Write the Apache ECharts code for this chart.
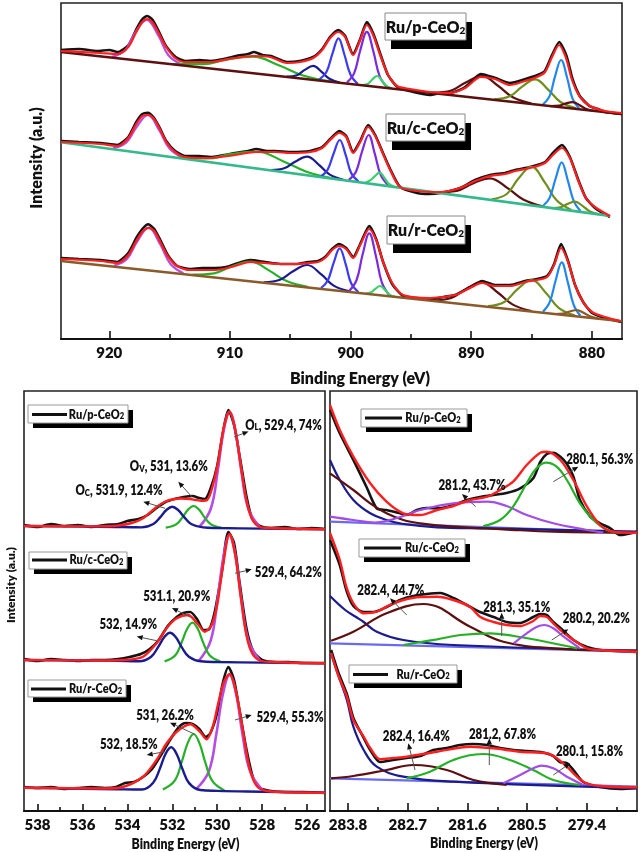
<!DOCTYPE html>
<html><head><meta charset="utf-8">
<script src="https://cdn.jsdelivr.net/npm/echarts@6/dist/echarts.min.js"></script>
<style>html,body{margin:0;padding:0;background:#fff}#c{width:640px;height:852px}</style>
</head><body><div id="c"></div>
<script>
// ---------- tick values ----------
const ceTicks = [920, 910, 900, 890, 880];
const ceMinor = [915, 905, 895, 885];
const o1sTicks = [538, 536, 534, 532, 530, 528, 526];
const o1sMinor = [537, 535, 533, 531, 529, 527];
const ru3dTicks = [283.8, 282.7, 281.6, 280.5, 279.4];
const ru3dMinor = [283.25, 282.15, 281.05, 279.95, 278.85];
const sampleNames = ['Ru/p-CeO', 'Ru/c-CeO', 'Ru/r-CeO'];

// ---------- Ce 3d : Ru/p-CeO2 ----------
const pRaw = [[924,289],[922.5,290],[921,288],[920,289],[919.3,287],[918.4,294],[917.75,310],[917.25,320],[916.85,323],[916.4,319],[915.95,309],[915.3,293],[914.5,282],[913.7,278],[912.5,279],[911.6,278],[910.5,280],[909.5,283],[908.5,285],[908.0,287],[907.3,284],[906.6,283],[905.3,277],[904.2,278],[903.1,282],[902.35,290],[901.7,302],[901.0,309],[900.45,303],[899.8,285],[899.2,300],[898.65,317],[898.1,305],[897.5,284],[896.9,264],[896.1,252],[895.1,248],[894,245],[893.4,244],[892.5,246],[891.75,246],[890.5,252],[889.2,265],[888.0,261],[886.8,256],[885.5,260],[884.5,264],[883.9,268],[883.3,284],[882.7,297],[882.1,283],[881.6,260],[881.0,243],[880.2,233],[879.5,230],[878.9,227],[877.5,225]];
const pFit = [[924,288],[920.74,286],[919.34,285],[918.42,292],[917.76,307],[917.26,317],[916.85,320],[916.44,317],[915.95,307],[915.28,292],[914.54,281],[913.71,277],[911.64,277],[909.57,281],[908.07,283],[906.67,282],[905.25,276],[904.18,277],[903.1,281],[902.35,289],[901.69,301],[901.02,307],[900.45,302],[899.78,284],[899.2,299],[898.65,314],[898.13,304],[897.55,284],[896.88,264],[896.14,253],[895.06,250],[893.4,247],[891.75,246],[890.5,251],[889.18,262],[888.02,260],[886.78,254],[885.54,258],[884.55,262],[883.88,267],[883.3,282],[882.72,294],[882.14,281],[881.64,259],[880.98,242],[880.15,233],[878.9,228],[877.5,226]];
const pBase = [[877.5,225],[924,287]];
const pPk917 = [[914.0,274.5],[915.1,283.8],[915.9,302.8],[916.9,319],[917.9,305.4],[918.7,288.6],[919.8,282.1]];
const pPk908 = [[901.5,257.3],[904.0,263.8],[905.9,273.5],[908.1,282.3],[910.3,279.3],[912.2,274.8],[914.7,274.9]];
const pPk903 = [[900.9,256.5],[901.75,260.2],[902.4,267.1],[903.1,273.1],[903.8,269.1],[904.45,263.8],[905.3,262.3]];
const pPk901 = [[899.4,255.1],[900.0,264.3],[900.5,284.0],[901.0,300.6],[901.5,285.4],[902.0,266.9],[902.6,259.3]];
const pPk899 = [[897.0,252.1],[897.6,263.2],[898.1,287.1],[898.65,307.2],[899.2,288.5],[899.7,265.9],[900.3,256.5]];
const pPk898 = [[896.6,250.6],[897.05,253.3],[897.4,258.5],[897.8,263],[898.2,259.5],[898.55,255.3],[899.0,253.8]];
const pPk889 = [[885.0,235.4],[886.55,241.7],[887.75,253.0],[889.1,262.9],[890.45,256.6],[891.65,248.5],[893.2,246.3]];
const pPk885 = [[881.3,230.6],[882.6,237.0],[883.6,249.1],[884.7,259.6],[885.8,252.1],[886.8,242.7],[888.1,239.6]];
const pPk882 = [[881.05,230.6],[881.6,240.4],[882.05,261.3],[882.55,279.0],[883.05,262.7],[883.5,242.9],[884.05,234.6]];
const pPk881 = [[879.8,228.1],[880.5,230.3],[881.0,233.8],[881.6,236.9],[882.2,235.4],[882.7,233.3],[883.4,232.9]];

// ---------- Ce 3d : Ru/c-CeO2 ----------
const cRaw = [[924,198],[922.5,197],[920.74,196],[919.34,194],[918.42,202],[917.76,217],[917.26,225],[916.8,226.3],[916.35,222],[915.85,212],[915.28,198],[914.54,188],[913.71,183],[912.5,183],[911.64,182],[910.5,184],[909.57,186],[908.5,188],[907.83,190],[906.9,188],[906.25,188],[905.0,187],[903.35,188],[902.35,192],[901.69,200],[900.94,208],[900.36,203],[899.78,187],[899.2,198],[898.54,214],[897.96,204],[897.38,188],[896.72,170],[895.89,152],[894.48,146],[893.5,145],[892.57,146],[890.92,151],[889.68,159],[888.43,164],[887.19,166],[886.36,169],[885.12,172],[883.88,177],[883.23,186],[882.48,194],[881.82,182],[881.15,160],[880.49,141],[879.74,131],[878.5,122]];
const cFit = [[924,197],[920.74,195],[919.34,193],[918.42,201],[917.76,215],[917.26,223],[916.8,224],[916.35,221],[915.85,211],[915.28,197],[914.54,187],[913.71,182],[911.64,181],[909.57,184],[907.83,187],[906.25,187],[905.0,186],[903.35,187],[902.35,191],[901.69,199],[900.94,206],[900.36,202],[899.78,186],[899.2,197],[898.54,212],[897.96,203],[897.38,187],[896.72,169],[895.89,152],[894.48,148],[892.57,147],[890.92,151],[889.68,158],[888.43,163],[887.19,165],[886.36,168],[885.12,171],[883.88,176],[883.23,184],[882.48,191],[881.82,181],[881.15,159],[880.49,141],[879.74,132],[878.5,123]];
const cBase = [[878.5,123.1],[924,196.7]];
const cPk917 = [[913.9,181.2],[915.0,190.4],[915.85,208.5],[916.8,224.0],[917.75,211.6],[918.6,196.2],[919.7,190.6]];
const cPk908 = [[901.2,160.0],[903.65,167.3],[905.55,177.6],[907.75,187.3],[909.95,184.8],[911.85,180.5],[914.35,181.4]];
const cPk904 = [[900.6,159.3],[901.75,164.6],[902.6,173.9],[903.6,182.3],[904.6,177.2],[905.5,170.7],[906.6,169.0]];
const cPk901 = [[899.35,157.7],[899.95,166.1],[900.4,183.9],[900.9,199.0],[901.4,185.5],[901.9,169.3],[902.45,162.7]];
const cPk899 = [[896.9,153.9],[897.5,164.1],[898.0,185.6],[898.5,204.0],[899.05,187.4],[899.55,167.3],[900.15,159.1]];
const cPk898 = [[896.4,152.3],[896.85,155.4],[897.2,161.3],[897.6,166.3],[898.0,162.6],[898.35,158.8],[898.8,156.1]];
const cPk888 = [[884.0,132.4],[885.65,139.2],[886.95,150.6],[888.45,160.7],[889.9,155.4],[891.2,148.2],[892.9,146.8]];
const cPk885 = [[881.7,129.1],[882.9,138.4],[883.9,156.6],[885.0,172.3],[886.1,160.2],[887.05,145.0],[888.3,139.7]];
const cPk882 = [[880.95,128.0],[881.5,137.9],[882.0,158.9],[882.5,176.7],[883.0,160.5],[883.5,141.1],[884.05,133.0]];
const cPk881 = [[879.5,124.9],[880.2,127.9],[880.75,132.9],[881.4,137.3],[882.05,134.9],[882.6,131.7],[883.3,130.9]];

// ---------- Ce 3d : Ru/r-CeO2 ----------
const rRaw = [[924,81],[922.5,80],[920.74,79],[919.34,77],[918.42,86],[917.76,101],[917.26,110],[916.77,114.7],[916.27,110],[915.77,99],[915.1,83],[914.37,73],[913.29,70],[912.3,71],[911.22,71],[910.3,72],[909.57,75],[908.32,79],[907.08,77],[905.83,75],[904.51,75],[903.52,77],[902.69,78],[902.11,82],[901.53,90],[900.94,95],[900.36,91],[899.78,82],[899.2,95],[898.45,113],[897.88,100],[897.3,77],[896.55,55],[895.64,43],[894.5,41],[893.4,40],[892.3,42],[891.34,44],[890.09,52],[889.1,58],[888.02,54],[886.78,54],[885.54,58],[884.55,60],[883.71,63],[883.13,75],[882.55,95],[881.97,78],[881.39,54],[880.72,37],[879.98,26],[878.9,21],[877.5,17]];
const rFit = [[924,80],[920.74,78],[919.34,76],[918.42,84],[917.76,98],[917.26,107],[916.77,111],[916.27,108],[915.77,97],[915.1,82],[914.37,73],[913.29,69],[911.22,69],[909.57,73],[908.32,77],[907.08,76],[905.83,75],[904.51,75],[903.52,76],[902.69,77],[902.11,81],[901.53,89],[900.94,93],[900.36,90],[899.78,81],[899.2,94],[898.45,110],[897.88,99],[897.3,77],[896.55,56],[895.64,44],[893.4,41],[891.34,44],[890.09,51],[889.1,56],[888.02,53],[886.78,53],[885.54,57],[884.55,59],[883.71,62],[883.13,74],[882.55,91],[881.97,77],[881.39,54],[880.72,37],[879.98,27],[878.9,22],[877.66,18]];
const rBase = [[877.5,17.8],[924,78]];
const rPk917 = [[913.86,65.75],[914.94,75.3],[915.78,94.7],[916.74,111.3],[917.7,97.1],[918.54,79.9],[919.62,73.15]];
const rPk908 = [[903.5,51.9],[905.3,57.9],[906.7,68.1],[908.3,77.3],[909.9,72.3],[911.3,65.7],[913.1,64.3]];
const rPk904 = [[900.0,47.4],[901.4,53.4],[902.4,64.3],[903.6,74.0],[904.8,67.5],[905.85,59.2],[907.2,56.7]];
const rPk901 = [[899.35,47.0],[899.95,55.7],[900.4,74.7],[900.9,90.7],[901.4,76.1],[901.9,58.3],[902.45,51.0]];
const rPk899 = [[896.8,44.0],[897.4,56.4],[897.9,83.1],[898.45,105.7],[899.0,84.5],[899.5,59.0],[900.1,48.2]];
const rPk898 = [[896.35,42.4],[896.8,44.65],[897.15,49.15],[897.55,53.0],[897.95,50.15],[898.3,46.65],[898.75,45.5]];
const rPk889 = [[885.0,28.0],[886.55,34.4],[887.75,46.0],[889.1,56.3],[890.45,49.6],[891.65,41.0],[893.2,38.6]];
const rPk885 = [[881.4,23.4],[882.75,31.2],[883.8,46.1],[885.0,59.0],[886.2,49.3],[887.25,37.0],[888.6,32.8]];
const rPk882 = [[880.95,23.3],[881.5,34.0],[882.0,57.1],[882.5,76.7],[883.0,58.5],[883.5,36.6],[884.05,27.3]];
const rPk881 = [[879.45,20.4],[880.1,22.4],[880.65,25.9],[881.25,29.0],[881.85,27.5],[882.4,25.4],[883.05,25.0]];

// ---------- O 1s ----------
const o1Raw = [[538.6,286],[538,284],[537.4,287],[536.8,285],[536.2,286],[535.6,284],[535,286],[534.4,287],[534,290],[533.5,292],[533.1,296],[532.7,303],[532.3,309],[531.9,312],[531.5,314],[531.1,315],[530.8,313],[530.55,312],[530.3,322],[530.0,345],[529.75,378],[529.5,401],[529.25,386],[529.0,355],[528.7,315],[528.45,293],[528.1,285],[527.6,283],[527,284],[526.4,282],[525.8,283],[525.2,282]];
const o1Fit = [[538.6,285],[536,284.6],[535,284.8],[534.4,285.5],[533.8,288],[533.3,292.7],[532.7,304],[532.3,309.5],[531.96,311.7],[531.6,312.5],[531.2,312],[530.95,311],[530.7,310.3],[530.45,311],[530.2,325],[529.95,350],[529.7,384],[529.45,399.3],[529.2,382],[528.95,345],[528.7,311],[528.45,292],[528.1,284],[527.65,283],[525.2,281.7]];
const o1Bg = [[525.2,281.7],[528,282.4],[530,283],[530.63,283.6],[531.16,287],[531.47,293.9],[531.74,301],[532.0,304.3],[532.26,301],[532.53,293.9],[532.84,287],[533.37,283.6],[533.8,283.8],[534.5,284],[536,284.4],[538.6,285]];
const o1OL = [[528.1,283.8],[528.62,302.5],[528.93,341.0],[529.19,380.6],[529.45,399.3],[529.71,380.6],[529.97,341.0],[530.28,302.5],[530.8,283.8]];
const o1Ov = [[529.81,283.4],[530.29,286.9],[530.58,294.1],[530.81,301.5],[531.05,305.0],[531.29,301.5],[531.53,294.1],[531.81,286.9],[532.29,283.4]];

const o2Raw = [[538.6,152],[538,150],[537.4,152],[536.8,151],[536.2,150],[535.6,151],[535,151],[534.4,152],[533.9,154],[533.4,157],[533.0,162],[532.6,171],[532.2,185],[531.8,194],[531.5,198],[531.2,199],[530.9,192],[530.6,181],[530.35,182],[530.1,200],[529.8,238],[529.5,279],[529.25,268],[529.0,228],[528.7,183],[528.4,160],[528.0,151],[527.4,149],[526.8,149],[526.2,148],[525.2,148]];
const o2Fit = [[538.6,151],[535,150.5],[534,151.2],[533.3,154.3],[532.7,167.7],[532.2,184.3],[531.8,192.7],[531.3,196],[530.9,188],[530.55,179.3],[530.25,186],[530.0,206],[529.75,244],[529.45,277],[529.2,257],[528.95,214],[528.7,176],[528.45,158],[528.1,150.5],[527.5,149],[525.2,147.7]];
const o2Bg = [[525.2,147.7],[528,148.4],[530,149],[530.73,149.7],[531.26,154.3],[531.58,163.9],[531.84,173.7],[532.1,178.3],[532.36,173.7],[532.63,163.9],[532.94,154.3],[533.47,149.7],[534.5,150.2],[536,150.5],[538.6,151]];
const o2OL = [[528.08,150.0],[528.61,170.3],[528.93,212.4],[529.19,255.6],[529.45,276.0],[529.71,255.6],[529.98,212.4],[530.29,170.3],[530.82,150.0]];
const o2Ov = [[529.86,149.6],[530.34,155.8],[530.63,168.8],[530.86,182.0],[531.1,188.3],[531.34,182.0],[531.58,168.8],[531.86,155.8],[532.34,149.6]];

const o3Raw = [[538.6,24],[538,23],[537.4,24],[536.8,22],[536.2,23],[535.6,24],[535,23],[534.5,24],[534.1,28],[533.7,29],[533.3,34],[532.9,42],[532.5,56],[532.1,71],[531.7,84],[531.4,88],[531.1,87],[530.8,82],[530.5,74],[530.3,78],[530.0,98],[529.75,128],[529.5,144],[529.25,131],[529.0,100],[528.7,62],[528.4,33],[528.1,23],[527.6,20],[527,19],[526.2,19],[525.2,18]];
const o3Fit = [[538.6,23.3],[535,22.5],[534.2,24],[533.3,34.3],[532.7,51],[532.25,67.7],[531.8,79.3],[531.2,86.7],[530.77,79.3],[530.47,71.7],[530.2,84],[529.95,108],[529.7,129],[529.45,137],[529.15,118],[528.85,80],[528.55,42],[528.2,24],[527.6,19.5],[525.2,18.3]];
const o3Bg = [[525.2,18.3],[528,19.3],[530,20.1],[530.75,21.0],[531.25,27.9],[531.55,42.2],[531.8,56.8],[532.05,63.7],[532.3,57.0],[532.55,42.4],[532.85,28.3],[533.35,21.5],[534.5,21.8],[536,22.3],[538.6,23.3]];
const o3OL = [[527.95,20.4],[528.53,39.4],[528.88,77.8],[529.16,117.3],[529.45,136.0],[529.74,117.5],[530.03,78.1],[530.37,39.8],[530.95,21.6]];
const o3Ov = [[529.68,20.6],[530.21,29.8],[530.53,48.6],[530.79,67.9],[531.05,77.0],[531.31,68.1],[531.58,49.0],[531.89,30.4],[532.42,21.5]];

// ---------- Ru 3d ----------
const u1Raw = [[284.13,401],[283.95,377.7],[283.7,351],[283.46,324.3],[283.27,302.7],[283.09,301],[282.84,297.7],[282.72,296],[282.53,301],[282.35,303],[282.1,302.7],[281.86,306],[281.61,311],[281.37,314],[281.12,316],[280.88,318],[280.63,322.7],[280.39,332.7],[280.26,349],[280.14,357],[280.02,358.3],[279.89,354.3],[279.77,347],[279.65,334.3],[279.53,311],[279.34,294.3],[279.16,287.7],[278.97,282.7],[278.79,276],[278.48,279.3]];
const u1Fit = [[284.13,406],[283.95,381],[283.7,354.3],[283.39,327.7],[283.09,309.3],[282.78,297.7],[282.47,296],[282.16,301],[281.86,305],[281.55,311],[281.24,314.3],[281.0,321],[280.76,329.3],[280.51,346],[280.26,358.3],[280.14,359.3],[279.89,351],[279.65,331],[279.4,304.3],[279.16,286],[278.91,279.3],[278.48,278.3]];
const u1Navy = [[284.13,351],[283.95,331],[283.7,311],[283.39,297.7],[283.09,291],[282.78,287],[282.16,283.7],[281.24,282.7],[278.48,279.3]];
const u1Mar = [[284.13,337.7],[283.7,321],[283.39,307.7],[283.09,297.7],[282.78,291],[282.47,287.7],[281.86,284.3],[280.94,281.7],[280.02,279.3],[278.48,278.3]];
const u1Base = [[284.13,289.3],[278.48,278.3]];
const u1Vio = [[284.13,294.3],[283.7,291],[283.3,288.5],[283.09,290],[282.78,295],[282.47,301],[281.86,307.7],[281.24,309.3],[280.88,305],[280.51,296],[280.02,287.7],[279.4,281],[279.1,278.3]];
const u1Grn = [[281.31,285],[281.0,291],[280.76,304.3],[280.51,327.7],[280.33,342.7],[280.15,348.3],[279.96,344.3],[279.77,331],[279.53,307.7],[279.28,291],[279.03,281],[278.79,278.3]];

const u2Raw = [[284.13,271],[283.95,246],[283.83,221],[283.7,205],[283.51,199],[283.33,199],[283.09,204],[282.84,211],[282.6,215],[282.35,217],[282.1,218],[281.86,213],[281.61,206],[281.37,199],[281.12,194],[280.88,189],[280.63,188],[280.39,194],[280.26,197],[280.14,196],[280.02,189],[279.89,183],[279.65,171],[279.4,164],[279.16,161],[278.48,159]];
const u2Fit = [[284.13,278],[283.95,251],[283.83,224.3],[283.7,207.7],[283.51,197.7],[283.27,199.3],[283.03,206],[282.78,211],[282.47,214],[282.16,214.3],[281.86,211],[281.55,204],[281.37,194.3],[281.12,189],[280.88,186],[280.63,185],[280.39,190],[280.26,195],[280.14,194],[280.02,187.7],[279.89,181],[279.65,171],[279.4,162.7],[279.16,161],[278.48,159.3]];
const u2Navy = [[284.13,215],[283.85,201],[283.65,194],[283.51,189],[283.27,179.3],[282.78,171],[281.86,166],[278.48,160.3]];
const u2Mar = [[284.11,170.3],[283.7,179.3],[283.09,197.7],[282.41,207],[281.55,184.3],[280.94,169.3],[280.02,162.7],[278.48,160.3]];
const u2Base = [[284.13,167.7],[278.48,159.3]];
const u2Grn = [[282.78,166],[282.16,171.7],[281.73,176],[281.18,177.7],[280.75,175],[280.32,171],[279.58,162.7]];
const u2Vio = [[280.75,167.7],[280.51,177.7],[280.32,184.3],[280.19,186],[280.02,182.7],[279.83,174.3],[279.53,162.7]];

const u3Raw = [[284.11,161],[283.98,139],[283.82,117],[283.7,93],[283.52,74],[283.39,61],[283.21,49],[282.97,51],[282.72,53],[282.47,55],[282.23,61],[281.98,63],[281.74,66],[281.5,67],[281.24,66],[281.0,63],[280.75,61],[280.51,60],[280.26,59],[280.02,55],[279.9,49],[279.77,48],[279.65,41],[279.47,29],[279.16,24],[278.79,22],[278.48,23]];
const u3Fit = [[284.11,158],[283.98,136],[283.82,114.3],[283.7,91],[283.51,74.3],[283.39,63],[283.21,51.7],[282.96,53],[282.72,54.3],[282.16,59.3],[281.55,64.3],[281.12,62.7],[280.63,59.3],[280.14,57.7],[279.96,53],[279.77,44.3],[279.47,29.3],[279.16,25],[278.48,23.7]];
const u3Navy = [[284.11,157.7],[283.98,136],[283.82,111],[283.7,84.3],[283.51,61],[283.27,44.3],[282.78,34.3],[281.86,29.3],[278.48,22.7]];
const u3Mar = [[284.11,32.7],[283.7,35],[283.09,41],[282.6,46],[281.98,41],[281.49,31],[280.88,26]];
const u3Base = [[284.13,32.7],[278.48,24.3]];
const u3Grn = [[282.72,32.7],[282.29,39.3],[281.86,51],[281.31,57],[280.82,51],[280.39,41],[280.02,31],[279.53,26]];
const u3Vio = [[280.94,27.7],[280.63,36],[280.39,42.7],[280.23,45.3],[280.02,42.7],[279.77,34.3],[279.47,26]];

// ---------- annotation texts ----------
const o1sLabels = [['L', '529.4, 74%'], ['V', '531, 13.6%'], ['C', '531.9, 12.4%'], ['', '529.4, 64.2%'], ['', '531.1, 20.9%'], ['', '532, 14.9%'], ['', '529.4, 55.3%'], ['', '531, 26.2%'], ['', '532, 18.5%']];
const ru3dLabels = ['280.1, 56.3%', '281.2, 43.7%', '282.4, 44.7%', '281.3, 35.1%', '280.2, 20.2%', '282.4, 16.4%', '281.2, 67.8%', '280.1, 15.8%'];

// ---------- colours ----------
const C = {
  black: '#141414', red: '#ff1f1f', orchid: '#b44ee2', green: '#26b026', navy: '#1b1b90',
  blue: '#3b3bf0', violet: '#7b2ae0', lgreen: '#3ccf6a', maroon: '#5c1010', olive: '#6e8f1e',
  dodger: '#2086f0', teal: '#33b98a', brown: '#8a5a2a', rviolet: '#a24ee6', lblue: '#6a6af0'
};

function ln(data, color, w, xi, smooth) {
  return {
    type: 'line', xAxisIndex: xi, yAxisIndex: Math.floor(xi / 2),
    data: data.slice().sort((a, b) => a[0] - b[0]),
    showSymbol: false, symbol: 'none', smooth: smooth === undefined ? 0.3 : smooth,
    lineStyle: { color: color, width: w }, silent: true, animation: false
  };
}

const series = [];
[[pRaw, pFit, pBase, [pPk917, pPk908, pPk903, pPk901, pPk899, pPk898, pPk889, pPk885, pPk882, pPk881], C.maroon, C.maroon],
 [cRaw, cFit, cBase, [cPk917, cPk908, cPk904, cPk901, cPk899, cPk898, cPk888, cPk885, cPk882, cPk881], C.teal, C.olive],
 [rRaw, rFit, rBase, [rPk917, rPk908, rPk904, rPk901, rPk899, rPk898, rPk889, rPk885, rPk882, rPk881], C.brown, C.brown]
].forEach(s => {
  const pkCols = [C.orchid, C.green, C.navy, C.blue, C.violet, C.lgreen, C.maroon, C.olive, C.dodger, s[5]];
  series.push(ln(s[0], C.black, 2.6, 0, 0.2));
  s[3].forEach((pk, i) => series.push(ln(pk, pkCols[i], 2.2, 0, 0.4)));
  series.push(ln(s[2], s[4], 2.6, 0, false));
  series.push(ln(s[1], C.red, 2.2, 0, 0.3));
});
[[o1Raw, o1Fit, o1Bg, o1OL, o1Ov], [o2Raw, o2Fit, o2Bg, o2OL, o2Ov], [o3Raw, o3Fit, o3Bg, o3OL, o3Ov]].forEach(s => {
  series.push(ln(s[0], C.black, 2.6, 2, 0.25));
  series.push(ln(s[3], C.orchid, 2.6, 2, 0.4));
  series.push(ln(s[4], C.green, 2.2, 2, 0.4));
  series.push(ln(s[2], C.navy, 2.4, 2, 0.4));
  series.push(ln(s[1], C.red, 2.4, 2, 0.3));
});
[[u1Raw, u1Fit, u1Navy, u1Mar, u1Base, u1Vio, u1Grn], [u2Raw, u2Fit, u2Navy, u2Mar, u2Base, u2Grn, u2Vio], [u3Raw, u3Fit, u3Navy, u3Mar, u3Base, u3Grn, u3Vio]].forEach((s, k) => {
  series.push(ln(s[0], C.black, 2.6, 4, 0.25));
  series.push(ln(s[4], C.lblue, 2.2, 4, false));
  series.push(ln(s[2], C.navy, 2.2, 4, 0.4));
  series.push(ln(s[3], C.maroon, 2.2, 4, 0.4));
  if (k === 0) { series.push(ln(s[5], C.rviolet, 2.2, 4, 0.4)); series.push(ln(s[6], C.green, 2.2, 4, 0.4)); }
  else { series.push(ln(s[5], C.green, 2.2, 4, 0.4)); series.push(ln(s[6], C.rviolet, 2.2, 4, 0.4)); }
  series.push(ln(s[1], C.red, 2.4, 4, 0.3));
});

const F = 'Lato, sans-serif';
const FN = '"Liberation Sans Narrow", Lato, sans-serif';
const W = 800;

function xax(grid, min, max, ticks, len, showLabel, fs, fam, fmt) {
  return {
    type: 'value', gridIndex: grid, min: min, max: max, inverse: true, position: 'bottom',
    axisLine: { show: showLabel, onZero: false, lineStyle: { color: '#111', width: 2 } },
    axisTick: { show: true, inside: true, length: len, customValues: ticks, lineStyle: { color: '#111', width: 1.6 } },
    axisLabel: { show: showLabel, customValues: ticks, fontSize: fs, fontWeight: W, fontFamily: fam, color: '#111', margin: 7,
      formatter: fmt },
    splitLine: { show: false }
  };
}
function yax(grid, max) {
  return { type: 'value', gridIndex: grid, min: 0, max: max, show: false, splitLine: { show: false } };
}

// ---------- graphic annotations ----------
const G = [];
function txt(x, y, text, size, sx, rich, rot) {
  G.push({ type: 'text', x: x, y: y, z: 100, scaleX: sx || 1, rotation: rot || 0,
    style: { text: text, fontSize: size, fontWeight: W, fontFamily: F, fill: '#111', align: 'center', verticalAlign: 'middle', rich: rich } });
}
function arrow(x1, y1, x2, y2) {
  const a = Math.atan2(y2 - y1, x2 - x1), L = 6, Wd = 2.6;
  const bx = x2 - L * Math.cos(a), by = y2 - L * Math.sin(a);
  G.push({ type: 'line', z: 100, shape: { x1: x1, y1: y1, x2: bx, y2: by }, style: { stroke: '#555', lineWidth: 1 } });
  G.push({ type: 'polygon', z: 100, shape: { points: [[x2, y2], [bx + Wd * Math.sin(a), by - Wd * Math.cos(a)], [bx - Wd * Math.sin(a), by + Wd * Math.cos(a)]] }, style: { fill: '#111' } });
}
function subRich(big, small) {
  return { a: { fontSize: big, fontWeight: W, fontFamily: F, fill: '#111', verticalAlign: 'bottom' },
           b: { fontSize: small, fontWeight: W, fontFamily: F, fill: '#111', verticalAlign: 'bottom' } };
}
function topBox(x1, y1, x2, y2, name) {
  G.push({ type: 'rect', z: 99, shape: { x: x1 + 6, y: y1 + 9, width: x2 - x1, height: y2 - y1 }, style: { fill: '#000' } });
  G.push({ type: 'rect', z: 99, shape: { x: x1, y: y1, width: x2 - x1, height: y2 - y1 }, style: { fill: '#fff', stroke: '#888', lineWidth: 1 } });
  txt((x1 + x2) / 2, (y1 + y2) / 2 + 1, '{a|' + name + '}{b|2}', 15, 1, subRich(16, 10));
}
function legBox(x1, y1, x2, y2, lx1, lx2, ly, tx, name) {
  G.push({ type: 'rect', z: 99, shape: { x: x1 + 5, y: y1 + 5, width: x2 - x1, height: y2 - y1 }, style: { fill: '#000' } });
  G.push({ type: 'rect', z: 99, shape: { x: x1, y: y1, width: x2 - x1, height: y2 - y1 }, style: { fill: '#fff', stroke: '#999', lineWidth: 1 } });
  G.push({ type: 'line', z: 100, shape: { x1: lx1, y1: ly, x2: lx2, y2: ly }, style: { stroke: '#111', lineWidth: 3 } });
  txt(tx, ly, '{a|' + name + '}{b|2}', 13, 0.85, subRich(13, 9));
}

topBox(385, 13, 466, 40, sampleNames[0]);
topBox(386, 114, 465, 141, sampleNames[1]);
topBox(387, 216, 465, 244, sampleNames[2]);

legBox(28, 405, 128, 423, 32, 67, 414.5, 96.5, sampleNames[0]);
legBox(29, 552, 127, 569, 32, 67, 560, 96.5, sampleNames[1]);
legBox(28, 680, 126, 697, 31, 66, 689, 95.5, sampleNames[2]);
legBox(361, 409, 467, 427, 365, 402, 418, 433, sampleNames[0]);
legBox(359, 539, 465, 557, 364, 401, 548, 432, sampleNames[1]);
legBox(349, 665, 457, 683, 353, 388, 674.5, 423, sampleNames[2]);

const AS = 14, AX = 0.82;
function oLab(x, y, lab) {
  if (lab[0]) txt(x, y, '{a|O}{b|' + lab[0] + '}{a|, ' + lab[1] + '}', AS, AX, subRich(AS, 9.5));
  else txt(x, y, lab[1], AS, AX);
}
oLab(283.5, 425, o1sLabels[0]); arrow(234, 437, 248.5, 431.5);
oLab(168.8, 466.5, o1sLabels[1]); arrow(191.7, 496.7, 178.3, 481.7);
oLab(119, 490.5, o1sLabels[2]); arrow(165, 508.3, 143.3, 501.7);
oLab(288.3, 572.5, o1sLabels[3]); arrow(235, 573.3, 251.7, 569.3);
oLab(176.7, 596, o1sLabels[4]); arrow(190, 617, 172, 608);
oLab(128.3, 624, o1sLabels[5]); arrow(156.7, 640.7, 136.7, 636.5);
oLab(290, 717.3, o1sLabels[6]); arrow(235, 720, 251.7, 715);
oLab(165, 715, o1sLabels[7]); arrow(194.3, 734, 170, 722.7);
oLab(128.8, 744, o1sLabels[8]); arrow(165, 751.7, 146.7, 755);

txt(599.7, 459.3, ru3dLabels[0], AS, AX); arrow(553.3, 481.7, 578.3, 466.7);
txt(472, 485, ru3dLabels[1], AS, AX); arrow(475.7, 506.7, 462, 494);
txt(390.8, 590, ru3dLabels[2], AS, AX); arrow(406.7, 615, 390, 598.3);
txt(516.7, 607.3, ru3dLabels[3], AS, AX); arrow(501.7, 636, 501.7, 612.7);
txt(596.2, 618.3, ru3dLabels[4], AS, AX); arrow(551.7, 640, 568.3, 629.3);
txt(416.3, 736, ru3dLabels[5], AS, AX); arrow(415, 770, 408.3, 743.3);
txt(502.5, 734, ru3dLabels[6], AS, AX); arrow(489.3, 765, 489.3, 738.3);
txt(589.5, 751.7, ru3dLabels[7], AS, AX); arrow(553.3, 775, 570, 763.3);

txt(360, 379, 'Binding Energy (eV)', 16, 1);
txt(185.5, 844, 'Binding Energy (eV)', 14, 0.88);
txt(484, 843, 'Binding Energy (eV)', 14, 0.88);
txt(37, 158, 'Intensity (a.u.)', 16, 1, null, Math.PI / 2);
txt(11, 585, 'Intensity (a.u.)', 12, 1, null, Math.PI / 2);

const chart = echarts.init(document.getElementById('c'), null, { renderer: 'canvas' });
chart.setOption({
  animation: false,
  backgroundColor: '#fff',
  grid: [
    { left: 61, top: 3, width: 561, height: 336, show: true, borderColor: '#222', borderWidth: 1.6, backgroundColor: 'transparent' },
    { left: 24, top: 391, width: 301, height: 420, show: true, borderColor: '#222', borderWidth: 1.6, backgroundColor: 'transparent' },
    { left: 330, top: 391, width: 307, height: 420, show: true, borderColor: '#222', borderWidth: 1.6, backgroundColor: 'transparent' }
  ],
  xAxis: [
    xax(0, 877.5, 924, ceTicks, 8, true, 15, F),
    xax(0, 877.5, 924, ceMinor, 5, false, 15, F),
    xax(1, 525.2, 538.6, o1sTicks, 7, true, 15, FN),
    xax(1, 525.2, 538.6, o1sMinor, 4, false, 15, FN),
    xax(2, 278.48, 284.13, ru3dTicks, 8, true, 15, FN, v => Number(v).toFixed(1)),
    xax(2, 278.48, 284.13, ru3dMinor, 4, false, 15, FN)
  ],
  yAxis: [yax(0, 336), yax(1, 420), yax(2, 420)],
  series: series,
  graphic: { elements: G }
});
</script></body></html>
